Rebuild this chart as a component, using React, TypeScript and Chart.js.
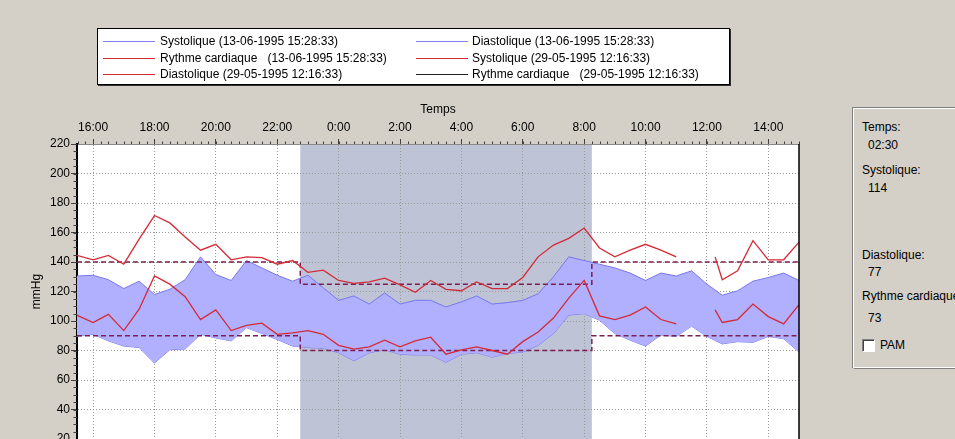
import React, { useEffect, useRef } from "react";
import { Chart, registerables } from "chart.js";

Chart.register(...registerables);

// ---- data ----
const blueTimes = [
  "15:28", "16:00", "16:30", "17:00", "17:30", "18:00", "18:30", "19:00", "19:30", "20:00",
  "20:30", "21:00", "21:30", "22:00", "22:30", "23:00", "23:30", "0:00", "0:30", "1:00",
  "1:30", "2:00", "2:30", "3:00", "3:30", "4:00", "4:30", "5:00", "5:30", "6:00",
  "6:30", "7:00", "7:30", "8:00", "8:30", "9:00", "9:30", "10:00", "10:30", "11:00",
  "11:30", "12:00", "12:30", "13:00", "13:30", "14:00", "14:30", "15:00",
];
const systolique1306 = [
  130.5, 131, 128, 122, 127, 118, 121.5, 128, 143.5, 131.5,
  127.5, 141, 136, 131, 127, 131, 122.5, 114, 117, 111.5,
  119, 111.5, 114, 114, 109.5, 113, 117, 111.5, 112.5, 114,
  118.5, 130, 143.5, 141, 138.5, 136, 132.5, 127.5, 132.5, 130.5,
  134, 125, 117.5, 120.5, 127, 129.5, 132.5, 127.5,
];
const diastolique1306 = [
  89.5, 91, 86.5, 83, 82, 71.5, 80.5, 81, 91, 88.5,
  86.5, 95.5, 91.5, 87.5, 83, 82, 81.5, 78.5, 73, 78.5,
  80.5, 77.5, 77, 77, 72, 77.5, 78.5, 75.5, 78, 79,
  83.5, 91.5, 104, 105, 100.5, 91.5, 87, 83, 90.5, 89.5,
  96.5, 89.5, 84.5, 86, 85.5, 89.5, 88, 79,
];

const redTimes = [
  "15:28", "16:00", "16:30", "17:00", "17:30", "18:00", "18:30", "19:00", "19:30", "20:00",
  "20:30", "21:00", "21:30", "22:00", "22:30", "23:00", "23:30", "0:00", "0:30", "1:00",
  "1:30", "2:00", "2:30", "3:00", "3:30", "4:00", "4:30", "5:00", "5:30", "6:00",
  "6:30", "7:00", "7:30", "8:00", "8:30", "9:00", "9:30", "10:00", "10:30", "11:00",
  "11:30", "12:16", "12:30", "13:00", "13:30", "14:00", "14:30", "15:00",
];
const systolique2905: (number | null)[] = [
  144.5, 141.5, 144.5, 138.5, 155.5, 171.5, 166.5, 157, 148, 152,
  141.5, 143.5, 143, 138.5, 141, 133, 134.5, 127.5, 125.5, 126.5,
  129, 124.5, 119.5, 127.5, 121.5, 120.5, 126.5, 122, 122, 129.5,
  143.5, 151.5, 156, 163, 149.5, 143.5, 148, 152, 148, 143.5,
  null, 143.5, 128, 134, 154.5, 141.5, 141.5, 153.5,
];
const diastolique2905: (number | null)[] = [
  104, 99, 104.5, 93.5, 108, 130.5, 125, 116.5, 101, 107.5,
  93.5, 97, 98.5, 91, 92, 93.5, 91, 83.5, 81, 82.5,
  87, 82.5, 86.5, 89, 77.5, 80.5, 82.5, 80, 77.5, 86,
  92.5, 102, 115.5, 127.5, 103.5, 101, 104, 109.5, 101, 98,
  null, 107.5, 99, 101, 111.5, 103, 98, 111,
];

const axisStart = "15:28:33";
const axisEnd = "15:00";
const xTickHours = [16, 18, 20, 22, 24, 26, 28, 30, 32, 34, 36, 38];
const nightStart = "22:45";
const nightEnd = "8:15";
const sysLimits = [140, 125]; // day, night
const diaLimits = [90, 80]; // day, night

const legendItems = [
  { label: "Systolique (13-06-1995 15:28:33)", color: "#8080f0" },
  { label: "Diastolique (13-06-1995 15:28:33)", color: "#8080f0" },
  { label: "Rythme cardiaque   (13-06-1995 15:28:33)", color: "#d42a35" },
  { label: "Systolique (29-05-1995 12:16:33)", color: "#d42a35" },
  { label: "Diastolique (29-05-1995 12:16:33)", color: "#d42a35" },
  { label: "Rythme cardiaque   (29-05-1995 12:16:33)", color: "#202020" },
];

const infoRows = [
  { label: "Temps:", value: "02:30" },
  { label: "Systolique:", value: "114" },
  { label: "Diastolique:", value: "77" },
  { label: "Rythme cardiaque", value: "73" },
];

// ---- helpers ----
function toHours(t: string): number {
  const parts = t.split(":").map(Number);
  let v = parts[0] + parts[1] / 60 + (parts[2] || 0) / 3600;
  if (v < 15.4) v += 24;
  return v;
}

function series(times: string[], vals: (number | null)[]) {
  return times.map((t, i) => ({ x: toHours(t), y: vals[i] }));
}

function limitSeries(lim: number[]) {
  const a = toHours(axisStart);
  const b = toHours(axisEnd);
  const ns = toHours(nightStart);
  const ne = toHours(nightEnd);
  return [
    { x: a, y: lim[0] },
    { x: ns, y: lim[0] },
    { x: ns, y: lim[1] },
    { x: ne, y: lim[1] },
    { x: ne, y: lim[0] },
    { x: b, y: lim[0] },
  ];
}

const FONT = "'Liberation Sans', Arial, sans-serif";

const decorPlugin = {
  id: "decor",
  beforeDraw(chart: any) {
    const { ctx, chartArea: a, scales } = chart;
    const x = scales.x;
    ctx.save();
    ctx.fillStyle = "#ffffff";
    ctx.fillRect(a.left, a.top, a.right - a.left, a.bottom - a.top);
    const x1 = x.getPixelForValue(toHours(nightStart));
    const x2 = x.getPixelForValue(toHours(nightEnd));
    ctx.fillStyle = "#bec3d6";
    ctx.fillRect(x1, a.top, x2 - x1, a.bottom - a.top);
    ctx.restore();
  },
  afterDraw(chart: any) {
    const { ctx, chartArea: a, scales } = chart;
    const x = scales.x;
    const y = scales.y;
    ctx.save();
    ctx.strokeStyle = "#404040";
    ctx.lineWidth = 1;
    ctx.beginPath();
    const start = Math.ceil(x.min * 4) / 4;
    for (let v = start; v <= x.max + 1e-6; v += 0.25) {
      const px = Math.round(x.getPixelForValue(v)) + 0.5;
      ctx.moveTo(px, a.top);
      ctx.lineTo(px, a.top - 2.5);
    }
    for (let v = y.min; v <= y.max; v += 5) {
      const py = Math.round(y.getPixelForValue(v)) + 0.5;
      ctx.moveTo(a.left, py);
      ctx.lineTo(a.left - 3.5, py);
    }
    ctx.stroke();
    ctx.strokeStyle = "#000";
    ctx.lineWidth = 1.5;
    ctx.beginPath();
    ctx.moveTo(a.right, a.top);
    ctx.lineTo(a.right, a.bottom);
    ctx.stroke();
    ctx.restore();
  },
};

export default function App() {
  const ref = useRef<HTMLCanvasElement | null>(null);

  useEffect(() => {
    if (!ref.current) return;
    const blue = "#7878ee";
    const red = "#d42a35";
    const limit = "#7a2050";
    const chart = new Chart(ref.current, {
      type: "line",
      data: {
        datasets: [
          {
            label: "Systolique (13-06-1995 15:28:33)",
            data: series(blueTimes, systolique1306),
            borderColor: blue,
            borderWidth: 1,
            backgroundColor: "#b0b0ff",
            fill: "+1",
            order: 3,
          },
          {
            label: "Diastolique (13-06-1995 15:28:33)",
            data: series(blueTimes, diastolique1306),
            borderColor: blue,
            borderWidth: 1,
            fill: false,
            order: 3,
          },
          {
            label: "Limite systolique",
            data: limitSeries(sysLimits),
            borderColor: limit,
            borderWidth: 1.5,
            borderDash: [5, 3],
            fill: false,
            order: 2,
          },
          {
            label: "Limite diastolique",
            data: limitSeries(diaLimits),
            borderColor: limit,
            borderWidth: 1.5,
            borderDash: [5, 3],
            fill: false,
            order: 2,
          },
          {
            label: "Systolique (29-05-1995 12:16:33)",
            data: series(redTimes, systolique2905),
            borderColor: red,
            borderWidth: 1.3,
            fill: false,
            spanGaps: false,
            order: 1,
          },
          {
            label: "Diastolique (29-05-1995 12:16:33)",
            data: series(redTimes, diastolique2905),
            borderColor: red,
            borderWidth: 1.3,
            fill: false,
            spanGaps: false,
            order: 1,
          },
        ],
      },
      options: {
        animation: false,
        responsive: false,
        maintainAspectRatio: false,
        layout: { padding: { left: 0, right: 1, top: 0, bottom: 11 } },
        elements: { point: { radius: 0, hoverRadius: 0 }, line: { tension: 0 } },
        plugins: { legend: { display: false }, tooltip: { enabled: false } },
        scales: {
          x: {
            type: "linear",
            position: "top",
            min: toHours(axisStart),
            max: toHours(axisEnd),
            z: 1,
            afterBuildTicks: (s: any) => {
              s.ticks = xTickHours.map((v) => ({ value: v }));
            },
            afterFit: (s: any) => {
              s.height = 144;
            },
            ticks: {
              autoSkip: false,
              maxRotation: 0,
              padding: 4,
              color: "#000",
              font: { family: FONT, size: 12 },
              callback: (v: any) => `${Number(v) % 24}:00`,
            },
            grid: { color: "#9a9a9a", tickColor: "#404040", tickLength: 5, lineWidth: 1 },
            border: { display: true, color: "#8a8a8a", width: 1, dash: [1, 2] },
            title: {
              display: true,
              text: "Temps",
              color: "#000",
              font: { family: FONT, size: 12 },
              padding: { top: 102, bottom: 0 },
            },
          },
          y: {
            min: 20,
            max: 220,
            z: 1,
            afterFit: (s: any) => {
              s.width = 77;
            },
            ticks: {
              stepSize: 20,
              padding: 1,
              color: "#000",
              font: { family: FONT, size: 12 },
            },
            grid: { color: "#9a9a9a", tickColor: "#404040", tickLength: 6, lineWidth: 1 },
            border: { display: true, color: "#000", width: 2, dash: [1, 2] },
            title: {
              display: true,
              text: "mmHg",
              color: "#000",
              font: { family: FONT, size: 12 },
              padding: { top: 29, bottom: 0 },
            },
          },
        },
      },
      plugins: [decorPlugin],
    } as any);
    return () => chart.destroy();
  }, []);

  const textStyle: React.CSSProperties = {
    position: "absolute",
    fontFamily: FONT,
    fontSize: 12,
    color: "#000",
    whiteSpace: "pre",
    lineHeight: "14px",
  };

  const rowsY = [41, 58, 74];
  const infoY = [
    [127, 145],
    [170, 188],
    [255, 272],
    [296, 318],
  ];

  return (
    <div
      style={{
        position: "fixed",
        left: 0,
        top: 0,
        width: 955,
        height: 439,
        overflow: "hidden",
        background: "#d4d0c8",
      }}
    >
      <canvas
        ref={ref}
        width={800}
        height={450}
        style={{ position: "absolute", left: 0, top: 0, width: 800, height: 450 }}
      />
      {/* legend */}
      <div
        style={{
          position: "absolute",
          left: 97,
          top: 28,
          width: 631,
          height: 55,
          background: "#fff",
          border: "1px solid #000",
          boxShadow: "1px 1px 0 #303030",
        }}
      />
      {legendItems.map((it, i) => {
        const col = i % 2;
        const row = Math.floor(i / 2);
        const lx = col === 0 ? 103 : 416;
        const tx = col === 0 ? 160 : 472;
        const cy = rowsY[row];
        return (
          <React.Fragment key={i}>
            <div
              style={{
                position: "absolute",
                left: lx,
                top: cy,
                width: 52,
                height: 1,
                background: it.color,
              }}
            />
            <div style={{ ...textStyle, left: tx, top: cy - 7 }}>{it.label}</div>
          </React.Fragment>
        );
      })}
      {/* info panel */}
      <div
        style={{
          position: "absolute",
          left: 853,
          top: 108,
          width: 110,
          height: 259,
          borderTop: "1px solid #ffffff",
          borderLeft: "1px solid #ffffff",
          borderBottom: "1px solid #808080",
          boxShadow: "inset -1px -1px 0 #ffffff, -1px -1px 0 #808080",
        }}
      />
      {infoRows.map((r, i) => (
        <React.Fragment key={i}>
          <div style={{ ...textStyle, left: 862, top: infoY[i][0] - 7 }}>{r.label}</div>
          <div style={{ ...textStyle, left: 868, top: infoY[i][1] - 7 }}>{r.value}</div>
        </React.Fragment>
      ))}
      <div
        style={{
          position: "absolute",
          left: 862,
          top: 339,
          width: 11,
          height: 11,
          background: "#fff",
          borderTop: "1px solid #808080",
          borderLeft: "1px solid #808080",
          borderRight: "1px solid #ffffff",
          borderBottom: "1px solid #ffffff",
          boxShadow: "inset 1px 1px 0 #404040",
        }}
      />
      <div style={{ ...textStyle, left: 880, top: 338 }}>PAM</div>
    </div>
  );
}
